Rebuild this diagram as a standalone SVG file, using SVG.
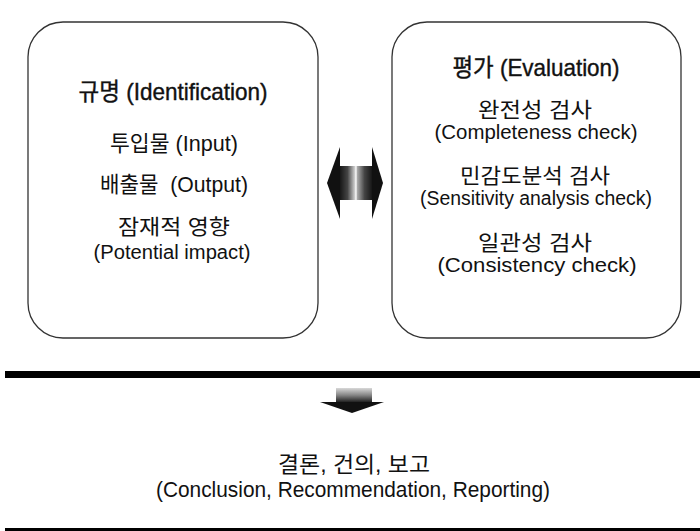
<svg xmlns="http://www.w3.org/2000/svg" width="700" height="531" viewBox="0 0 700 531">
  <style>
    .box { fill: #fff; stroke: #333; stroke-width: 1.3; }
    .t { font-family: "Liberation Sans", "Noto Sans CJK KR", sans-serif; fill: #111; text-anchor: middle; white-space: pre; }
    .title { font-size: 24px; stroke: #111; stroke-width: 0.4; }
    .body { font-size: 22px; }
    .ko { font-size: 21px; }
    .en { font-size: 20px; }
    .rule { stroke: #000; }
  </style>
  <defs>
    <linearGradient id="gradH" x1="0" y1="0" x2="1" y2="0">
      <stop offset="0" stop-color="#111"/>
      <stop offset="0.25" stop-color="#444"/>
      <stop offset="0.46" stop-color="#ccc"/>
      <stop offset="0.5" stop-color="#fff"/>
      <stop offset="0.54" stop-color="#aaa"/>
      <stop offset="0.75" stop-color="#444"/>
      <stop offset="1" stop-color="#111"/>
    </linearGradient>
    <linearGradient id="gradV" x1="0" y1="0" x2="0" y2="1">
      <stop offset="0" stop-color="#d8d8d8"/>
      <stop offset="0.5" stop-color="#888"/>
      <stop offset="1" stop-color="#222"/>
    </linearGradient>
  </defs>

  <!-- Identification box -->
  <g id="identification">
    <rect class="box" x="28" y="22" width="290" height="316" rx="35" ry="35"/>
    <text class="t title" x="173" y="100" textLength="189" lengthAdjust="spacingAndGlyphs">규명 (Identification)</text>
    <text class="t body" x="174" y="151" textLength="128" lengthAdjust="spacingAndGlyphs">투입물 (Input)</text>
    <text class="t body" x="174" y="192" textLength="148" lengthAdjust="spacingAndGlyphs">배출물  (Output)</text>
    <text class="t ko" x="174" y="234" textLength="112" lengthAdjust="spacingAndGlyphs">잠재적 영향</text>
    <text class="t en" x="172" y="259" textLength="157" lengthAdjust="spacingAndGlyphs">(Potential impact)</text>
  </g>

  <!-- Evaluation box -->
  <g id="evaluation">
    <rect class="box" x="392" y="22" width="289" height="316" rx="35" ry="35"/>
    <text class="t title" x="536" y="76" textLength="167" lengthAdjust="spacingAndGlyphs">평가 (Evaluation)</text>
    <text class="t ko" x="535" y="117" textLength="114" lengthAdjust="spacingAndGlyphs">완전성 검사</text>
    <text class="t en" x="536" y="139" textLength="203" lengthAdjust="spacingAndGlyphs">(Completeness check)</text>
    <text class="t ko" x="535" y="183" textLength="150" lengthAdjust="spacingAndGlyphs">민감도분석 검사</text>
    <text class="t en" x="536" y="205" textLength="232" lengthAdjust="spacingAndGlyphs">(Sensitivity analysis check)</text>
    <text class="t ko" x="535" y="250" textLength="114" lengthAdjust="spacingAndGlyphs">일관성 검사</text>
    <text class="t en" x="537" y="272" textLength="199" lengthAdjust="spacingAndGlyphs">(Consistency check)</text>
  </g>

  <!-- Conclusion block -->
  <g id="conclusion">
    <text class="t body" x="354" y="472" textLength="152" lengthAdjust="spacingAndGlyphs">결론, 건의, 보고</text>
    <text class="t body" x="353" y="497" textLength="394" lengthAdjust="spacingAndGlyphs">(Conclusion, Recommendation, Reporting)</text>
  </g>

  <!-- Connectors -->
  <g id="connectors">
    <!-- two-way arrow between the boxes -->
    <rect x="339" y="166" width="34" height="34" fill="url(#gradH)"/>
    <polygon points="340,147 327,183 340,219" fill="#111"/>
    <polygon points="372,147 383,183 372,219" fill="#111"/>
    <!-- separator rules -->
    <line class="rule" x1="5" y1="374.5" x2="700" y2="374.5" stroke-width="7"/>
    <line class="rule" x1="5" y1="530.5" x2="700" y2="530.5" stroke-width="5"/>
    <!-- downward arrow -->
    <rect x="336" y="388" width="36" height="14" fill="url(#gradV)"/>
    <polygon points="320,402 384,402 352,413" fill="#111"/>
  </g>
</svg>
